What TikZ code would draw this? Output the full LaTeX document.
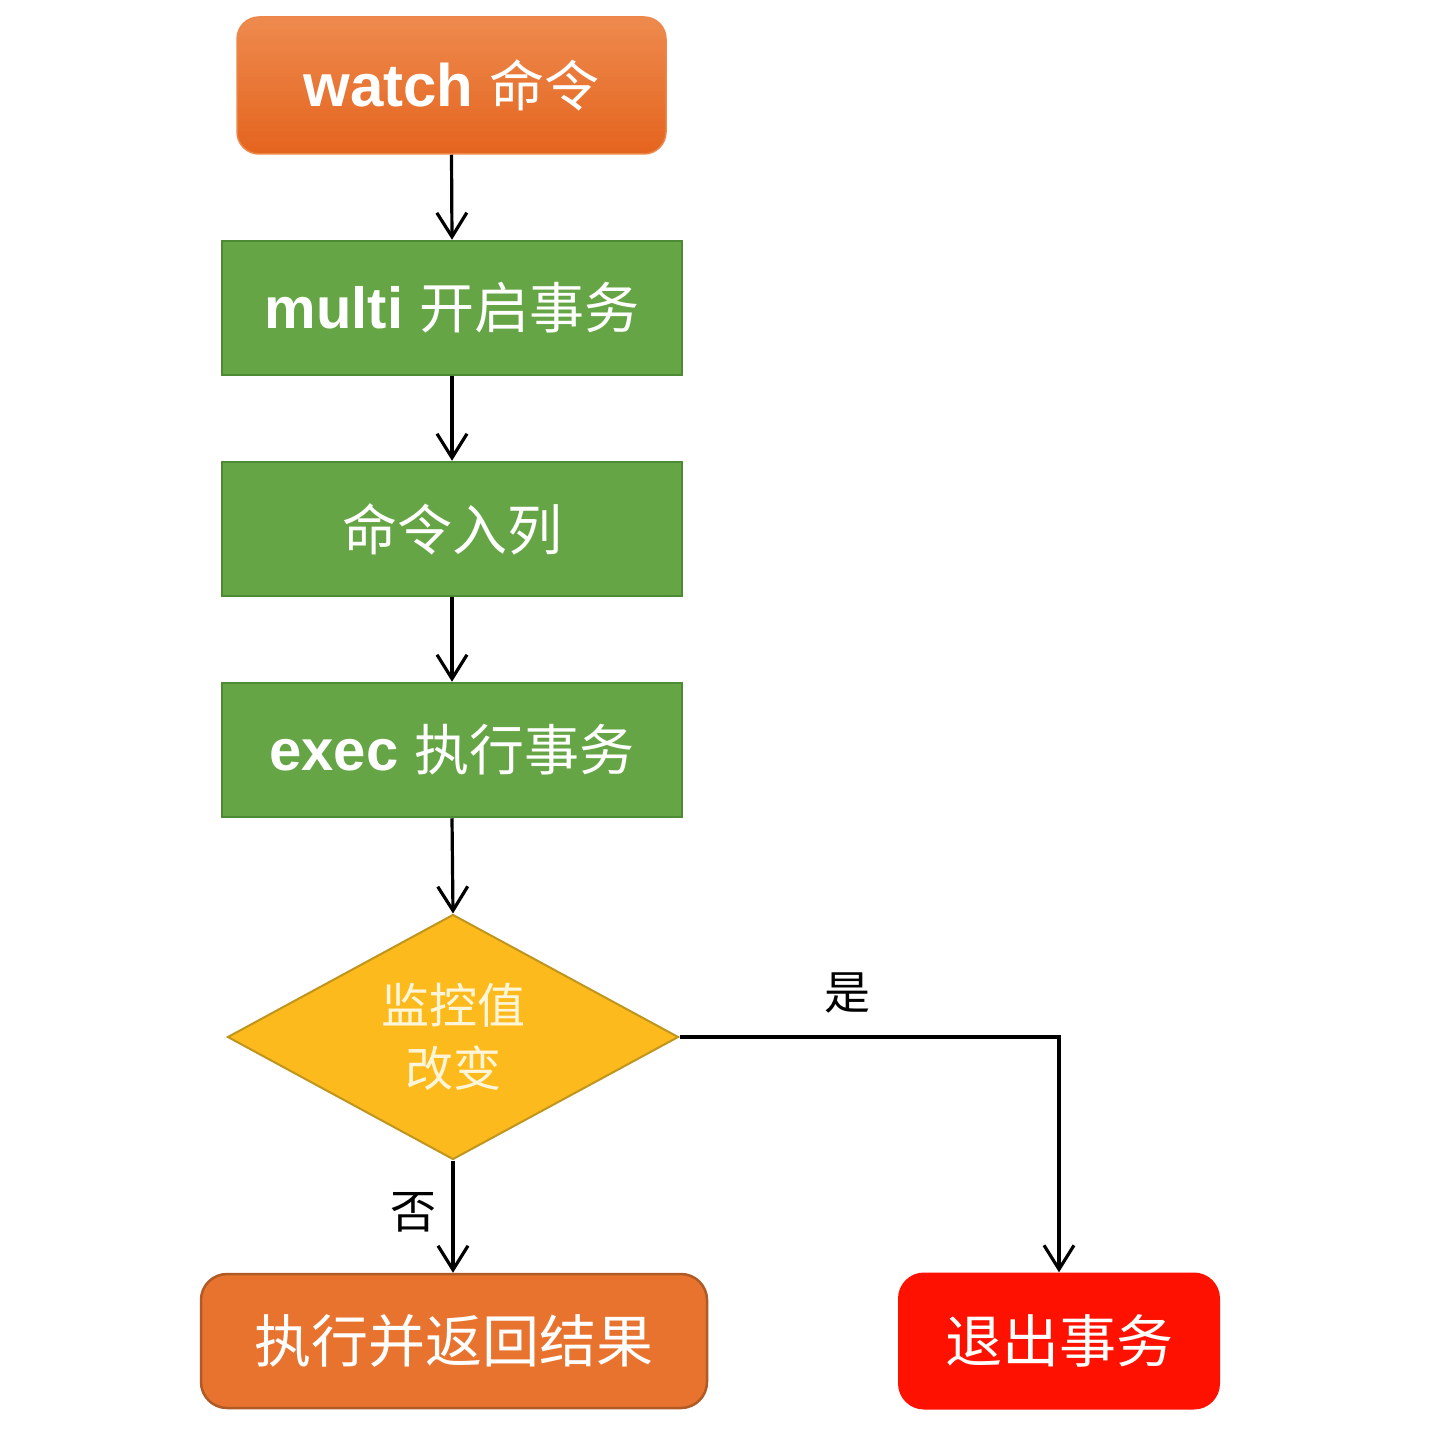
\documentclass[tikz,border=0pt]{standalone}
\usepackage{fontspec}
\newfontfamily\latinb{Liberation Sans}
\newfontfamily\cjk{Noto Sans CJK SC}
\usetikzlibrary{shapes.geometric,arrows.meta}
\definecolor{orTop}{HTML}{EE8A4E}
\definecolor{orBot}{HTML}{E4641E}
\definecolor{grFill}{HTML}{66A545}
\definecolor{grLine}{HTML}{4C8A34}
\definecolor{ylFill}{HTML}{FDBA1C}
\definecolor{ylLine}{HTML}{C0951E}
\definecolor{obFill}{HTML}{E8732F}
\definecolor{obLine}{HTML}{B05A26}
\definecolor{rdFill}{HTML}{FF1100}
\definecolor{dmText}{HTML}{FFF6DA}
\tikzset{
  greenbox/.style={rectangle, fill=grFill, draw=grLine, line width=2.5pt,
    minimum width=460pt, minimum height=134pt, text=white, inner sep=0pt},
  flowarrow/.style={line width=3.2pt, -{Straight Barb[length=24pt,width=30pt,line width=3.2pt]}},
  lbl/.style={font=\cjk\fontsize{46}{50}\selectfont, text=black, inner sep=0pt},
}
\begin{document}
\begin{tikzpicture}[x=1pt,y=-1pt]
\useasboundingbox (0,0) rectangle (1444,1450);
\fill[white] (0,0) rectangle (1444,1450);

\node[rectangle, rounded corners=22pt, top color=orTop, bottom color=orBot, draw=orTop!90!orBot, line width=1.5pt,
  minimum width=429pt, minimum height=137pt, text=white, inner sep=0pt] (w) at (451.5,85.5)
  {{\latinb\bfseries\fontsize{60}{66}\selectfont watch}\hspace{16pt}{\cjk\fontsize{55}{60}\selectfont 命令}};

\node[greenbox] (m) at (452,308)
  {{\latinb\bfseries\fontsize{58}{64}\selectfont multi}\hspace{16pt}{\cjk\fontsize{55}{60}\selectfont 开启事务}};

\node[greenbox] (c) at (452,529)
  {\cjk\fontsize{55}{60}\selectfont 命令入列};

\node[greenbox] (e) at (452,750)
  {{\latinb\bfseries\fontsize{58}{64}\selectfont exec}\hspace{16pt}{\cjk\fontsize{55}{60}\selectfont 执行事务}};

\node[diamond, shape aspect=1.84, fill=ylFill, draw=ylLine, line width=2pt,
  minimum width=451pt, minimum height=245pt, inner sep=0pt, text=dmText, align=center,
  font=\cjk\fontsize{48}{63}\selectfont] (d) at (453,1037) {监控值\\改变};

\node[rectangle, rounded corners=26pt, fill=obFill, draw=obLine, line width=2.5pt,
  minimum width=506pt, minimum height=134pt, text=white, inner sep=0pt,
  font=\cjk\fontsize{57}{62}\selectfont] (r) at (454,1341) {执行并返回结果};

\node[rectangle, rounded corners=26pt, fill=rdFill,
  minimum width=322pt, minimum height=137pt, text=white, inner sep=0pt,
  font=\cjk\fontsize{57}{62}\selectfont] (q) at (1059,1341) {退出事务};

\draw[flowarrow] (w.south) -- (m.north);
\draw[flowarrow] (m.south) -- (c.north);
\draw[flowarrow] (c.south) -- (e.north);
\draw[flowarrow] (e.south) -- (d.north);
\draw[flowarrow] (d.south) -- (d.south |- r.north);
\draw[flowarrow] (d.east) -| (q.north);

\node[lbl] (yes) at (847,993) {是};
\node[lbl] (no) at (413,1212) {否};
\end{tikzpicture}
\end{document}
